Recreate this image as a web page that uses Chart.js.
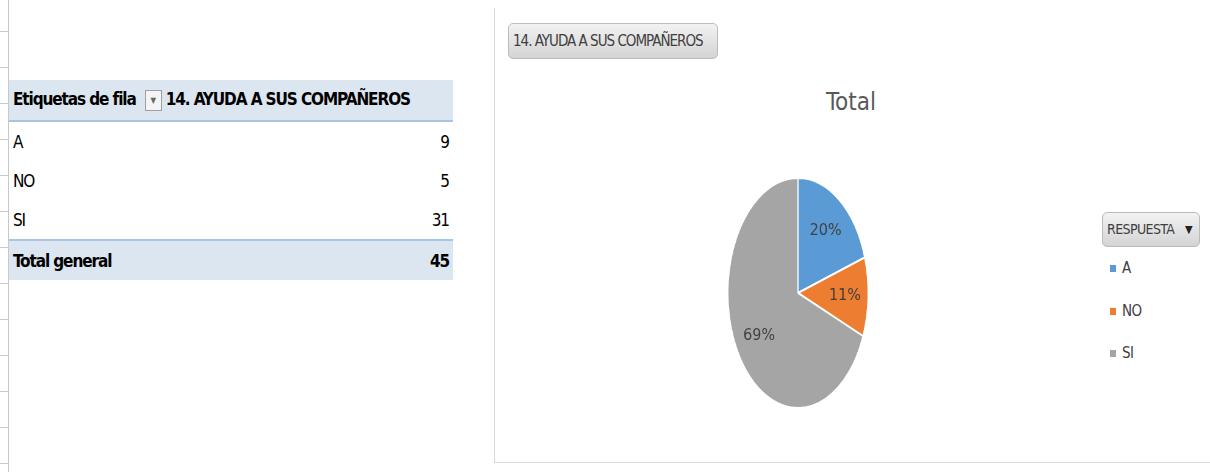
<!DOCTYPE html>
<html>
<head>
<meta charset="utf-8">
<script src="https://cdn.jsdelivr.net/npm/chart.js@4"></script>
<style>
  body { margin: 0; width: 1210px; height: 472px; background: #fff; overflow: hidden; position: relative;
         font-family: "DejaVu Sans", sans-serif; font-stretch: condensed; color: #000; white-space: nowrap; }
  .abs { position: absolute; }
  #ticks { left: 0; top: 0; width: 8px; height: 472px;
           background: repeating-linear-gradient(to bottom, transparent 0 31px, #c8c8c8 31px 32px, transparent 32px 36px); }
  #vline { left: 8px; top: 0; width: 1px; height: 472px; background: #c8c8c8; }
  #pivot { left: 9px; top: 80px; width: 444px; table-layout: fixed; border-collapse: collapse; font-size: 17px; letter-spacing: -1.1px; }
  #pivot td { padding: 0 4px; height: 39px; overflow: visible; }
  #pivot tr.hd td, #pivot tr.tot td { background: #dce6f1; font-weight: bold; }
  #pivot tr.hd td { border-bottom: 2px solid #a9c4e4; height: 40px; }
  #pivot tr.tot td { border-top: 2px solid #a9c4e4; }
  #pivot td.num { text-align: right; }
  .dd { display: inline-block; width: 15px; height: 19px; border: 1px solid #a0a0a0; background: #f4f4f4; letter-spacing: 0;
        vertical-align: middle; margin: 0 4px 0 9px; font-size: 8px; color: #666; text-align: center; line-height: 19px; font-weight: normal; }
  #panel { left: 494px; top: 8px; width: 716px; height: 454px; border-left: 1px solid #d9d9d9; border-bottom: 1px solid #d9d9d9; }
  .btn { border: 1px solid #bcbcbc; border-radius: 5px; background: linear-gradient(#f2f2f2, #d4d4d4);
         color: #404040; font-size: 14px; box-sizing: border-box; }
  #fieldBtn { left: 508px; top: 23px; width: 210px; height: 36px; line-height: 34px; padding-left: 4px; font-size: 15px; letter-spacing: -1px; }
  #title { left: 751px; top: 88px; width: 200px; text-align: center; font-size: 24px; color: #595959; }
  #chartWrap { left: 681px; top: 176px; width: 234px; height: 234px; transform: scaleX(0.61); transform-origin: 50% 50%; }
  #legBtn { left: 1102px; top: 212px; width: 98px; height: 35px; line-height: 33px; padding-left: 4px; font-size: 14px; letter-spacing: -0.6px; }
  #legBtn span { position: absolute; right: 7px; top: 0; font-size: 11px; color: #222; }
  .leg { left: 1110px; font-size: 15px; color: #404040; letter-spacing: -0.5px; }
  .leg i { display: inline-block; width: 6px; height: 7px; margin-right: 6px; vertical-align: 1px; }
</style>
</head>
<body>
<div id="ticks" class="abs"></div>
<div id="vline" class="abs"></div>
<table id="pivot" class="abs"><colgroup><col style="width:380px"><col style="width:64px"></colgroup><tbody id="pbody"></tbody></table>
<div id="panel" class="abs"></div>
<div id="fieldBtn" class="abs btn">14. AYUDA A SUS COMPAÑEROS</div>
<div id="title" class="abs">Total</div>
<div id="chartWrap" class="abs"><canvas id="chart" width="234" height="234"></canvas></div>
<div id="legBtn" class="abs btn">RESPUESTA<span>▼</span></div>
<div id="legend"></div>
<script>
const categories = ["A", "NO", "SI"];
const counts = [9, 5, 31];
const colors = ["#5b9bd5", "#ed7d31", "#a5a5a5"];
const fieldName = "14. AYUDA A SUS COMPAÑEROS";
const xScale = 0.61;

const total = counts.reduce((a, b) => a + b, 0);

// pivot table
let rows = `<tr class="hd"><td>Etiquetas de fila<span class="dd">▼</span>${fieldName}</td><td></td></tr>`;
categories.forEach((c, i) => {
  rows += `<tr><td>${c}</td><td class="num">${counts[i]}</td></tr>`;
});
rows += `<tr class="tot"><td>Total general</td><td class="num">${total}</td></tr>`;
document.getElementById("pbody").innerHTML = rows;

// legend
document.getElementById("legend").innerHTML = categories
  .map((c, i) => `<div class="abs leg" style="top:${259 + i * 42.5}px"><i style="background:${colors[i]}"></i>${c}</div>`)
  .join("");

// percent labels, drawn stretched back so the squeezed canvas shows normal text
const pctLabels = {
  id: "pctLabels",
  afterDatasetsDraw(chart) {
    const ctx = chart.ctx;
    const meta = chart.getDatasetMeta(0);
    ctx.save();
    ctx.font = "16px 'DejaVu Sans', sans-serif";
    ctx.fontStretch = "condensed";
    ctx.fillStyle = "#404040";
    ctx.textAlign = "center";
    ctx.textBaseline = "middle";
    meta.data.forEach((arc, i) => {
      const p = arc.getProps(["x", "y", "startAngle", "endAngle", "outerRadius"]);
      const mid = (p.startAngle + p.endAngle) / 2;
      const r = p.outerRadius * 0.67;
      ctx.save();
      ctx.translate(p.x + Math.cos(mid) * r, p.y + Math.sin(mid) * r);
      ctx.scale(1 / xScale, 1);
      ctx.fillText(Math.round((counts[i] / total) * 100) + "%", 0, 0);
      ctx.restore();
    });
    ctx.restore();
  },
};

new Chart(document.getElementById("chart"), {
  type: "pie",
  data: {
    labels: categories,
    datasets: [{ data: counts, backgroundColor: colors, borderColor: "#fff", borderWidth: 2 }],
  },
  options: {
    responsive: false,
    animation: false,
    devicePixelRatio: 1,
    layout: { padding: 1 },
    plugins: { legend: { display: false }, tooltip: { enabled: false } },
  },
  plugins: [pctLabels],
});
</script>
</body>
</html>
